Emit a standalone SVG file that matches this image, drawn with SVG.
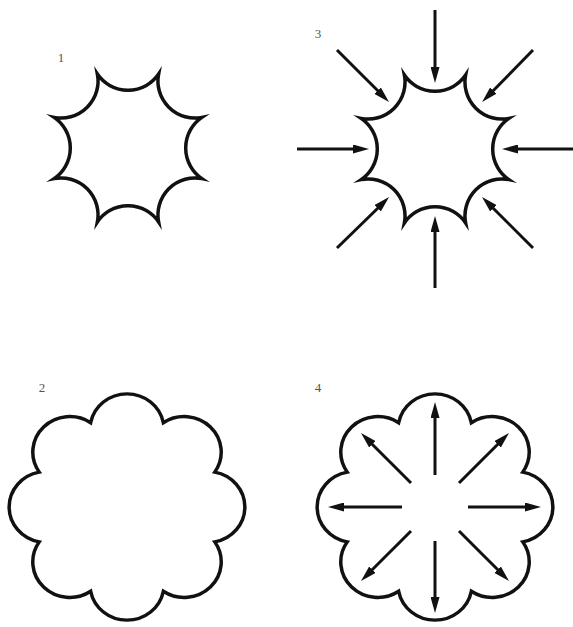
<svg xmlns="http://www.w3.org/2000/svg" width="573" height="627" viewBox="0 0 573 627">
  <style>
    .shape { fill: #ffffff; stroke: #111111; stroke-width: 3.5; stroke-linejoin: miter; stroke-miterlimit: 20; }
    .arrow { stroke: #111111; stroke-width: 3; fill: none; marker-end: url(#ah); }
    .lbl { font-family: "Liberation Serif", "Times New Roman", serif; font-size: 13px; fill: #555555; text-anchor: middle; }
  </style>
  <defs>
    <marker id="ah" markerUnits="userSpaceOnUse" markerWidth="16" markerHeight="9" refX="3" refY="4.5" orient="auto">
      <path d="M0,0 L16,4.5 L0,9 z" fill="#111111"/>
    </marker>
    <path id="star" d="M -30.61,-73.91 A37 37 0 0 0 30.61,-73.91 A37 37 0 0 0 73.91,-30.61 A37 37 0 0 0 73.91,30.61 A37 37 0 0 0 30.61,73.91 A37 37 0 0 0 -30.61,73.91 A37 37 0 0 0 -73.91,30.61 A37 37 0 0 0 -73.91,-30.61 A37 37 0 0 0 -30.61,-73.91 Z"/>
    <path id="flower" d="M -36.35,-87.77 A37 37 0 0 1 36.35,-87.77 A37 37 0 0 1 87.77,-36.35 A37 37 0 0 1 87.77,36.35 A37 37 0 0 1 36.35,87.77 A37 37 0 0 1 -36.35,87.77 A37 37 0 0 1 -87.77,36.35 A37 37 0 0 1 -87.77,-36.35 A37 37 0 0 1 -36.35,-87.77 Z"/>
  </defs>
  <rect width="573" height="627" fill="#ffffff"/>

  <g id="fig1">
    <use href="#star" class="shape" transform="translate(128,148)"/>
    <text class="lbl" x="61" y="62">1</text>
  </g>

  <g id="fig3">
    <use href="#star" class="shape" transform="translate(435,149)"/>
    <text class="lbl" x="318" y="38">3</text>
  </g>

  <g id="fig2">
    <use href="#flower" class="shape" transform="translate(127,507) scale(1,0.96)"/>
    <text class="lbl" x="42" y="392">2</text>
  </g>

  <g id="fig4">
    <use href="#flower" class="shape" transform="translate(435,507) scale(1,0.96)"/>
    <text class="lbl" x="318" y="392">4</text>
  </g>

  <g id="connectors">
    <line class="arrow" x1="435" y1="10" x2="435" y2="70"/>
    <line class="arrow" x1="435" y1="288" x2="435" y2="229"/>
    <line class="arrow" x1="297" y1="149" x2="356" y2="149"/>
    <line class="arrow" x1="573" y1="149" x2="515" y2="149"/>
    <line class="arrow" x1="337" y1="50" x2="379.8" y2="92.8"/>
    <line class="arrow" x1="533" y1="50" x2="491.2" y2="92.8"/>
    <line class="arrow" x1="337" y1="248" x2="379.8" y2="206.2"/>
    <line class="arrow" x1="533" y1="248" x2="491.2" y2="206.2"/>

    <line class="arrow" x1="435" y1="475" x2="435" y2="415"/>
    <line class="arrow" x1="435" y1="541" x2="435" y2="600"/>
    <line class="arrow" x1="402" y1="507" x2="341" y2="507"/>
    <line class="arrow" x1="468" y1="507" x2="528" y2="507"/>
    <line class="arrow" x1="411" y1="483" x2="370.2" y2="442.2"/>
    <line class="arrow" x1="459" y1="483" x2="499.8" y2="442.2"/>
    <line class="arrow" x1="411" y1="531" x2="370.2" y2="571.8"/>
    <line class="arrow" x1="459" y1="531" x2="499.8" y2="571.8"/>
  </g>
</svg>
